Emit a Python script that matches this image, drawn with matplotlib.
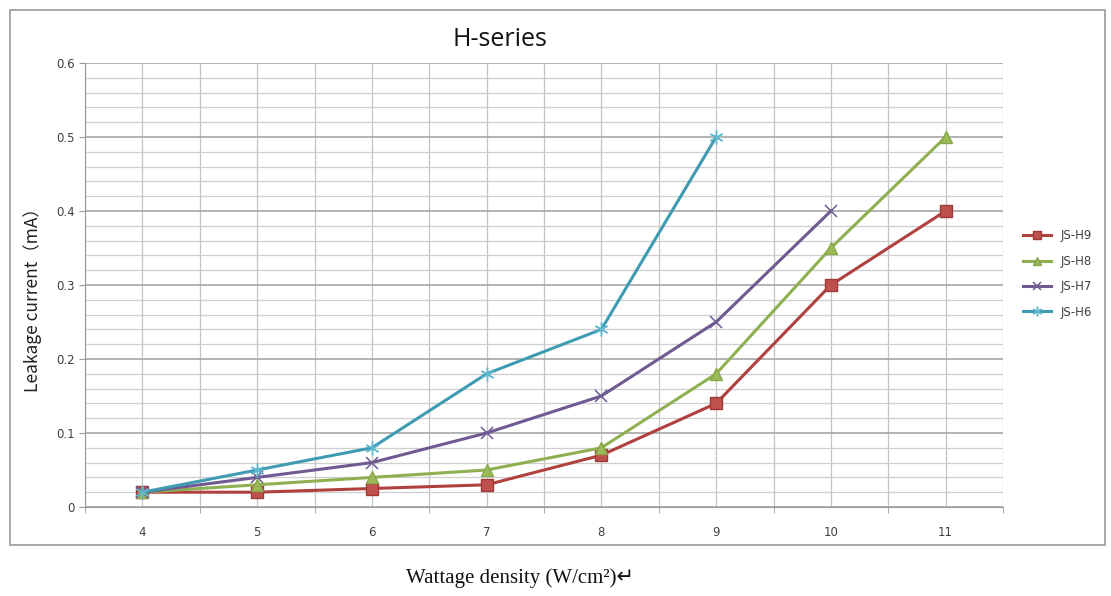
import matplotlib.pyplot as plt
from matplotlib.patches import Rectangle
from matplotlib.ticker import MultipleLocator

# 数据
x_h9 = [4, 5, 6, 7, 8, 9, 10, 11]
y_h9 = [0.02, 0.02, 0.025, 0.03, 0.07, 0.14, 0.30, 0.40]
x_h8 = [4, 5, 6, 7, 8, 9, 10, 11]
y_h8 = [0.02, 0.03, 0.04, 0.05, 0.08, 0.18, 0.35, 0.50]
x_h7 = [4, 5, 6, 7, 8, 9, 10]
y_h7 = [0.02, 0.04, 0.06, 0.10, 0.15, 0.25, 0.40]
x_h6 = [4, 5, 6, 7, 8, 9]
y_h6 = [0.02, 0.05, 0.08, 0.18, 0.24, 0.50]
x_ticks = [4, 5, 6, 7, 8, 9, 10, 11]
y_ticks = [0, 0.1, 0.2, 0.3, 0.4, 0.5, 0.6]
y_tick_labels = ["0", "0.1", "0.2", "0.3", "0.4", "0.5", "0.6"]

fig = plt.figure(figsize=(11.11, 5.96), dpi=100)
fig.patch.set_facecolor("white")

# 外框
fig.patches.append(Rectangle((10 / 1111, 1 - 545 / 596), 1095 / 1111, 535 / 596,
                             transform=fig.transFigure, fill=False,
                             edgecolor="#9a9a9a", linewidth=1.2))

ax = fig.add_axes([85 / 1111, 1 - 507 / 596, 918 / 1111, 444 / 596])
ax.set_xlim(3.5, 11.5)
ax.set_ylim(0, 0.6)

ax.yaxis.set_minor_locator(MultipleLocator(0.02))
ax.xaxis.set_minor_locator(MultipleLocator(0.5))
ax.grid(which="major", axis="y", color="#a6a6a6", linewidth=1.2)
ax.grid(which="minor", axis="y", color="#cfcfcf", linewidth=0.9)
ax.grid(which="both", axis="x", color="#c4c4c4", linewidth=0.9)
ax.set_axisbelow(True)

ax.plot(x_h9, y_h9, color="#b0413e", linewidth=2.2, marker="s", markersize=8,
        markerfacecolor="#c0504d", markeredgecolor="#a03a37", label="JS-H9")
ax.plot(x_h8, y_h8, color="#8fb050", linewidth=2.2, marker="^", markersize=8,
        markerfacecolor="#9bbb59", markeredgecolor="#88a64c", label="JS-H8")
ax.plot(x_h7, y_h7, color="#6f5a92", linewidth=2.2, marker="x", markersize=8,
        markeredgewidth=1.1, label="JS-H7")
ax.plot(x_h6, y_h6, color="#3f9bb2", linewidth=2.2, marker=(6, 2, 0), markersize=10,
        markeredgewidth=1.0, markeredgecolor="#5fb8d0", label="JS-H6")

ax.set_xticks(x_ticks)
ax.set_yticks(y_ticks)
ax.set_yticklabels(y_tick_labels)
ax.tick_params(axis="both", which="major", labelsize=8.5, labelcolor="#404040",
               color="#999999", length=4)
ax.tick_params(axis="x", which="major", pad=14, length=0)
ax.tick_params(axis="x", which="minor", length=4, color="#999999")
ax.tick_params(axis="y", which="minor", length=0)
for side in ["top", "right"]:
    ax.spines[side].set_visible(False)
ax.spines["left"].set_color("#999999")
ax.spines["bottom"].set_color("#999999")

fig.text(500 / 1111, 1 - 40 / 596, "H-series", fontsize=18, ha="center", va="center",
         family=["Open Sans", "DejaVu Sans"], color="#111111")
fig.text(33 / 1111, 1 - 296 / 596, "Leakage current（mA）", fontsize=12.5, rotation=90,
         ha="center", va="center", family=["Noto Sans CJK SC", "DejaVu Sans"], color="#222222")
fig.text(520 / 1111, 1 - 578 / 596, "Wattage density (W/cm²)↵", fontsize=15,
         ha="center", va="center", family=["Liberation Serif", "DejaVu Sans"], color="#111111")

fig.legend(loc="center left", bbox_to_anchor=(1012 / 1111, 1 - 274 / 596), frameon=False,
           fontsize=8.5, handlelength=2.4, labelspacing=1.05, labelcolor="#404040",
           markerscale=0.7)

fig.savefig("out.png", dpi=100, facecolor="white")
